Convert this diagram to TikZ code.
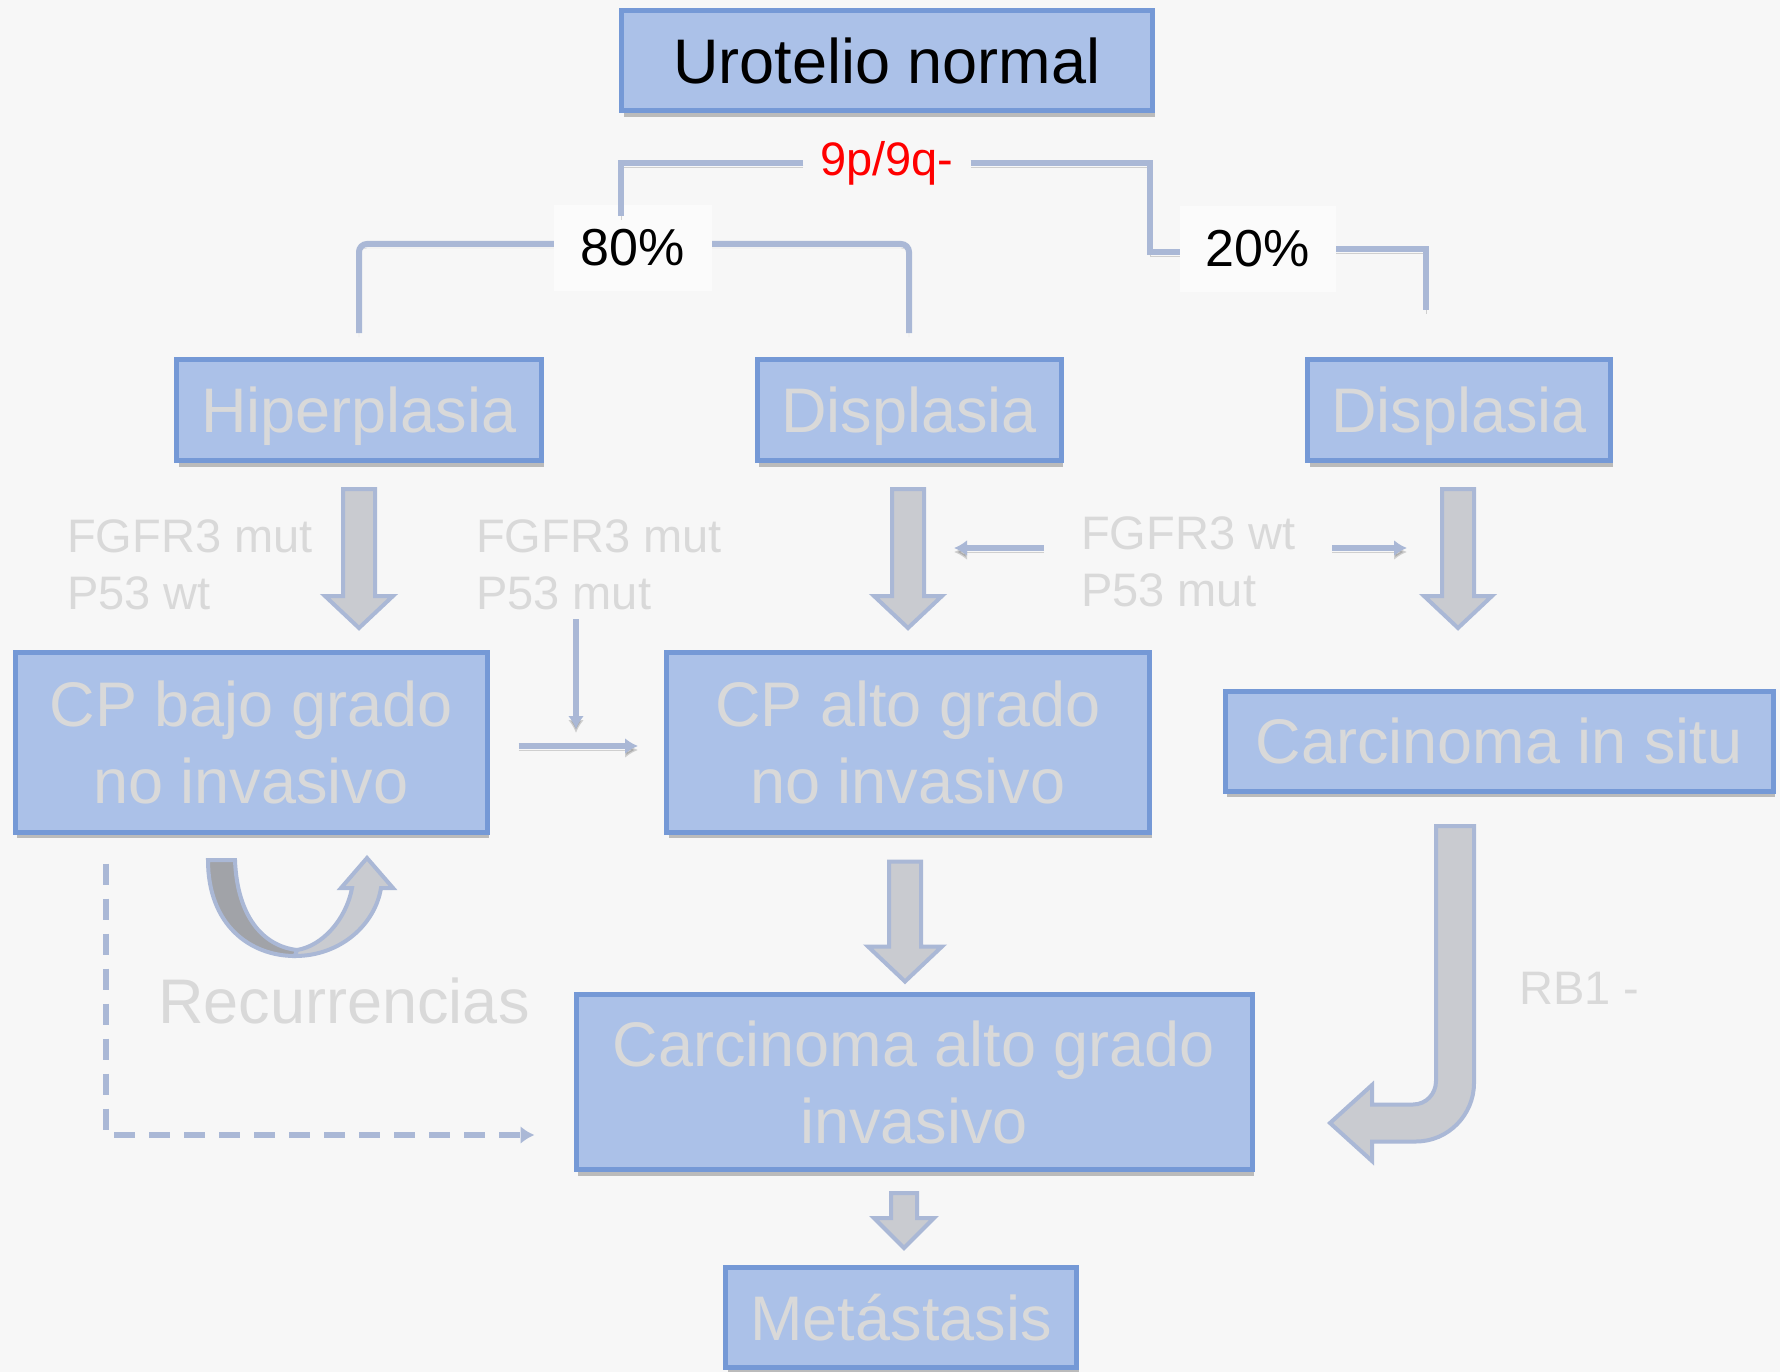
\documentclass[tikz,border=0pt]{standalone}
\usepackage{fontspec}
\setmainfont{Liberation Sans}
\usetikzlibrary{arrows.meta,shadows}

\definecolor{fondo}{HTML}{F7F7F7}
\definecolor{relleno}{HTML}{ABC1E8}
\definecolor{borde}{HTML}{7599D6}
\definecolor{conector}{HTML}{AAB8D6}
\definecolor{flechagris}{HTML}{C9CBD0}
\definecolor{flechaoscura}{HTML}{A1A3A8}
\definecolor{textogris}{HTML}{D9D9D9}

\tikzset{
  caja/.style={draw=borde, fill=relleno, line width=5pt, inner sep=0pt, align=center,
    text=textogris, text depth=0pt, font=\fontsize{63}{77}\selectfont,
    drop shadow={shadow xshift=2pt, shadow yshift=-6pt, opacity=0.5}},
  etiqueta/.style={text=textogris, inner sep=0pt, align=left, anchor=west,
    font=\fontsize{47}{57}\selectfont},
  porcentaje/.style={fill=fondo!55!white, inner sep=0pt, minimum height=86,
    font=\fontsize{52}{62}\selectfont},
  sombrita/.style={preaction={draw=black, opacity=0.16, transform canvas={yshift=-4pt}}},
  rama/.style={draw=conector, line width=6pt, sombrita},
  fina/.style={draw=conector, line width=6pt, sombrita, -{Latex[length=13pt,width=16pt]}},
  discont/.style={draw=conector, line width=6pt, dash pattern=on 21pt off 14pt,
    -{Latex[length=14pt,width=18pt]}},
  gruesa/.style={fill=flechagris, draw=conector, line width=4pt, line join=miter},
}

% flecha gruesa hacia abajo: punto superior, largo, largo de punta, medio ancho, medio ancho de punta
\newcommand{\bajada}[5]{%
  \draw[gruesa, shift={#1}] (-#4,0) -- (#4,0) -- (#4,#2-#3) -- (#5,#2-#3) -- (0,#2)
    -- (-#5,#2-#3) -- (-#4,#2-#3) -- cycle;}

\begin{document}
\begin{tikzpicture}[x=1pt,y=-1pt]
  % fondo
  \fill[fondo] (0,0) rectangle (1780,1372);
  \useasboundingbox (0,0) rectangle (1780,1372);

  % Cajas
  \node[caja, text=black, minimum width=531, minimum height=100] (uro) at (887,61) {Urotelio normal};
  \node[caja, minimum width=365, minimum height=101] (hiper) at (359,410) {Hiperplasia};
  \node[caja, minimum width=304, minimum height=101] (displ) at (909,410) {Displasia};
  \node[caja, minimum width=303, minimum height=101] (displd) at (1459,410) {Displasia};
  \node[caja, minimum width=472, minimum height=180] (cpbajo) at (251,742) {CP bajo grado\\no invasivo};
  \node[caja, minimum width=483, minimum height=180] (cpalto) at (908,742) {CP alto grado\\no invasivo};
  \node[caja, minimum width=548, minimum height=100] (cis) at (1499,741) {Carcinoma in situ};
  \node[caja, minimum width=676, minimum height=175] (cai) at (914,1082) {Carcinoma alto grado\\invasivo};
  \node[caja, minimum width=351, minimum height=100] (meta) at (901,1317) {Metástasis};

  % Porcentajes
  \node[porcentaje, minimum width=167, fill=fondo, text=red, font=\fontsize{47}{57}\selectfont] (lab9p) at (887,163) {9p/9q-};
  \node[porcentaje, minimum width=158] (lab80) at (633,248) {80\%};
  \node[porcentaje, minimum width=156] (lab20) at (1258,249) {20\%};

  % Ramas
  \coordinate (pie9p) at (621,216);
  \coordinate (codo20) at (1150,252);
  \draw[rama] (lab9p.west) -| (pie9p);
  \draw[rama] (lab9p.east) -| (codo20) -- (lab20.west |- codo20);
  \draw[rama, rounded corners=8] ([yshift=24pt]hiper.north) |- ([yshift=4pt]lab80.west);
  \draw[rama, rounded corners=8] ([yshift=4pt]lab80.east) -| ([yshift=24pt]displ.north);
  \draw[rama] (lab20.east) -| ([xshift=-33pt,yshift=47pt]displd.north);

  % Etiquetas
  \node[etiqueta] (fgfrA) at (67,565) {FGFR3 mut\\P53 wt};
  \node[etiqueta] (fgfrB) at (476,565) {FGFR3 mut\\P53 mut};
  \node[etiqueta] (fgfrC) at (1081,562) {FGFR3 wt\\P53 mut};
  \node[etiqueta] (rb) at (1519,988) {RB1 -};
  \node[text=textogris, inner sep=0pt, font=\fontsize{63}{77}\selectfont] (recu) at (344,1001) {Recurrencias};

  % Flechas gruesas
  \bajada{([yshift=-26pt]hiper.south)}{139}{32}{16}{34}
  \bajada{([xshift=-1pt,yshift=-26pt]displ.south)}{139}{32}{16}{34}
  \bajada{([xshift=-1pt,yshift=-26pt]displd.south)}{139}{32}{16}{34}
  \bajada{([xshift=-3pt,yshift=-27pt]cpalto.south)}{120}{35}{16}{37}
  \bajada{([xshift=-10pt,yshift=-21pt]cai.south)}{55}{30}{13}{30}

  % Flechas finas
  \coordinate (derA) at (1332,548);
  \coordinate (derB) at (1407,548);
  \coordinate (bajaP) at (576,619);
  \coordinate (bajaQ) at (576,729);
  \draw[fina] ([shift={(-37,-14)}]fgfrC.west) -- ([shift={(-127,-14)}]fgfrC.west);
  \draw[fina] (derA) -- (derB);
  \draw[fina] (bajaP) -- (bajaQ);
  \draw[fina] ([xshift=29pt,yshift=-4pt]cpbajo.east) -- ([xshift=-26pt,yshift=-4pt]cpalto.west);
  \draw[discont] ([shift={(93,29)}]cpbajo.south west) |- ([shift={(-39,53)}]cai.west);

  % Recurrencias
  \filldraw[fill=flechaoscura, draw=conector, line width=4pt] (208,860) .. controls (208,925) and (250,956) .. (295,956)
    -- (297,950) .. controls (262,946) and (237,915) .. (235,860) -- cycle;
  \filldraw[gruesa] (295,956) .. controls (340,956) and (375,925) .. (381,888) -- (393,888) -- (367,858)
    -- (341,888) -- (352,888) .. controls (346,920) and (322,946) .. (297,950) -- cycle;

  % CIS a invasivo
  \draw[gruesa] (1436,826) -- (1474,826) -- (1474,1083) .. controls (1474,1115) and (1448,1141.5) .. (1416,1141.5)
    -- (1372,1141.5) -- (1372,1161) -- (1330,1123) -- (1372,1085) -- (1372,1104.5) -- (1413,1104.5)
    .. controls (1426,1104.5) and (1436,1094) .. (1436,1081) -- cycle;
\end{tikzpicture}
\end{document}
